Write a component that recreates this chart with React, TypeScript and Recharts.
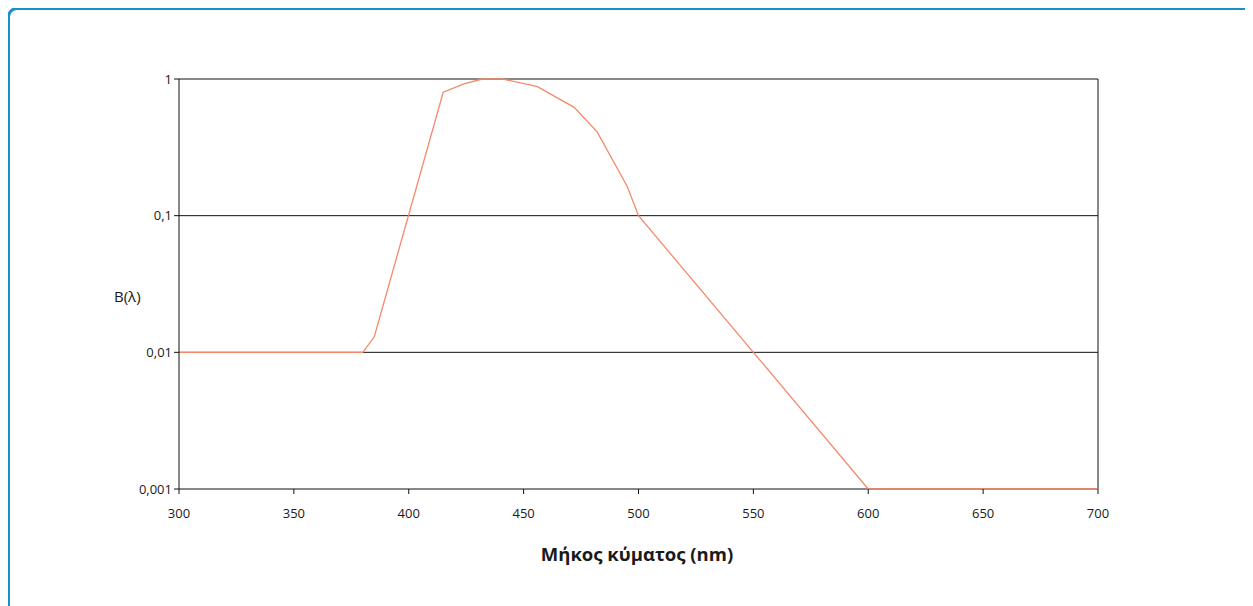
import React from "react";
import {
  LineChart,
  Line,
  XAxis,
  YAxis,
  CartesianGrid,
  ReferenceLine,
} from "recharts";

const wavelengths = [300, 380, 385, 415, 424, 432, 441, 456, 472, 482, 495, 500, 600, 700];
const hazardValues = [0.01, 0.01, 0.013, 0.8, 0.92, 1.0, 1.0, 0.88, 0.62, 0.41, 0.165, 0.1, 0.001, 0.001];
const xTicks = [300, 350, 400, 450, 500, 550, 600, 650, 700];
const yTicks = [0.001, 0.01, 0.1, 1];
const yTickLabels = ["0,001", "0,01", "0,1", "1"];
const xTitle = "Μήκος κύματος (nm)";
const yTitle = "B(λ)";

const data = wavelengths.map((w, i) => ({ w, b: hazardValues[i] }));

const FONT = "'Open Sans', 'DejaVu Sans', sans-serif";

export default function App() {
  return (
    <div
      style={{
        position: "relative",
        width: 1245,
        height: 598,
        overflow: "hidden",
        fontFamily: FONT,
      }}
    >
      <div
        style={{
          position: "absolute",
          left: -1,
          top: -1,
          width: 1260,
          height: 640,
          border: "3px solid #1a8fcf",
          borderRadius: 10,
          boxSizing: "border-box",
        }}
      />
      <div style={{ position: "absolute", left: 0.5, top: 0.5 }}>
        <LineChart
          width={1245}
          height={598}
          data={data}
          margin={{ top: 70, right: 156, bottom: 88, left: 110 }}
        >
          <CartesianGrid vertical={false} stroke="#111" strokeWidth={1} />
          <ReferenceLine x={700} stroke="#111" strokeWidth={1} />
          <XAxis
            dataKey="w"
            type="number"
            domain={[300, 700]}
            ticks={xTicks}
            tickSize={5}
            tickMargin={15}
            height={30}
            stroke="#111"
            axisLine={false}
            tickLine={{ stroke: "#111" }}
            tick={{ fill: "#1a1a1a", fontSize: 13, fontFamily: FONT }}
            interval={0}
          />
          <YAxis
            type="number"
            scale="log"
            domain={[0.001, 1]}
            ticks={yTicks}
            tickFormatter={(v: number) => yTickLabels[yTicks.indexOf(v)] ?? String(v)}
            width={60}
            tickSize={5}
            tickMargin={2}
            stroke="#111"
            tick={{ fill: "#1a1a1a", fontSize: 13, fontFamily: FONT }}
            interval={0}
          />
          <Line
            type="linear"
            dataKey="b"
            stroke="#f4896b"
            strokeWidth={1.3}
            dot={false}
            isAnimationActive={false}
          />
        </LineChart>
      </div>
      <div
        style={{
          position: "absolute",
          left: 106,
          top: 278,
          fontSize: 15,
          color: "#1a1a1a",
        }}
      >
        {yTitle}
      </div>
      <div
        style={{
          position: "absolute",
          left: 629 - 300,
          width: 600,
          top: 533,
          textAlign: "center",
          fontSize: 18.5,
          fontWeight: 700,
          color: "#1a1a1a",
        }}
      >
        {xTitle}
      </div>
    </div>
  );
}
